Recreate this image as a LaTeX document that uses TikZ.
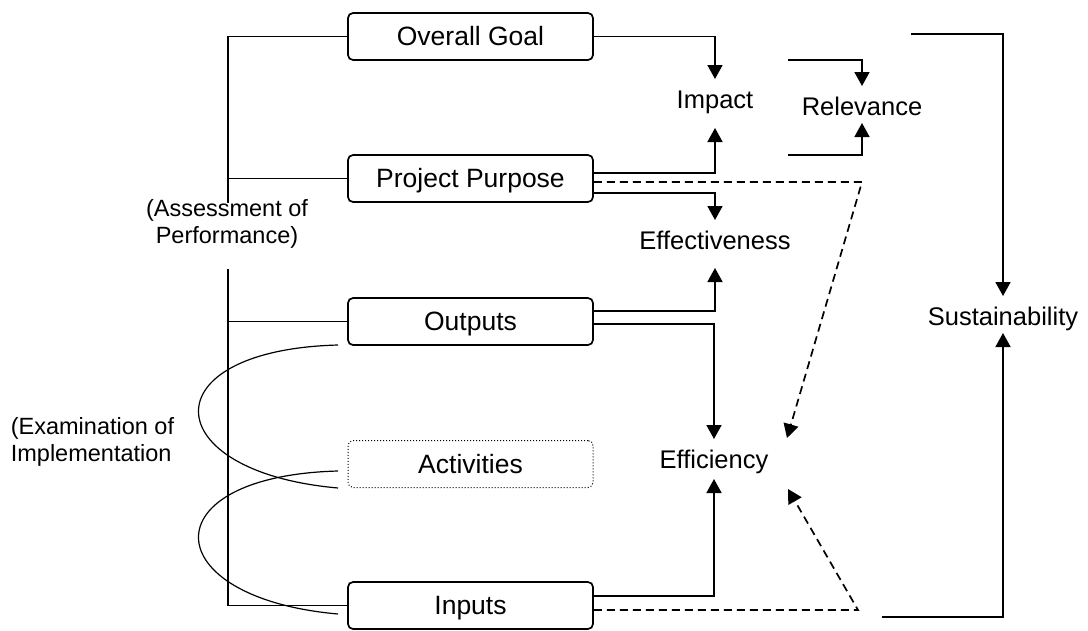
\documentclass[tikz,border=0pt]{standalone}
\usepackage{fontspec}
\setmainfont{Liberation Sans}
\usetikzlibrary{arrows.meta,calc}
\begin{document}
\begin{tikzpicture}[x=1pt,y=-1pt,
  line width=1.7pt,
  txt/.style={font=\fontsize{25.5}{27}\selectfont, inner sep=0pt, text height=18pt, text depth=0pt},
  caption/.style={font=\fontsize{23.5}{27}\selectfont, inner sep=0pt, text height=17pt, text depth=0pt},
  stage/.style={txt, font=\fontsize{26.5}{27}\selectfont, draw, rounded corners=5pt, minimum width=245pt, minimum height=47pt},
  planned/.style={stage, line width=1pt, dotted},
  arr/.style={-{Triangle[width=15pt,length=14pt]}},
  dashlink/.style={dash pattern=on 8pt off 5pt}
]
\useasboundingbox (0,0) rectangle (1088,630);

% logframe boxes
\node[stage]   (goal)    at (470.5,36.5)  {Overall Goal};
\node[stage]   (purpose) at (470.5,178.5) {Project Purpose};
\node[stage]   (outputs) at (470.5,321.5) {Outputs};
\node[planned] (activ)   at (470.5,464)   {Activities};
\node[stage]   (inputs)  at (470.5,605.5) {Inputs};

% evaluation criteria
\node[txt] (impact)  at (715,99)    {Impact};
\node[txt] (relev)   at (862,106)   {Relevance};
\node[txt] (effect)  at (715,240.5) {Effectiveness};
\node[txt] (effic)   at (714,459)   {Efficiency};
\node[txt] (sustain) at (1003,316)  {Sustainability};

% side captions
\node[caption, align=center] (assess) at (227,234.5) {(Assessment of\\Performance)};
\node[caption, align=left, anchor=west] (exam) at (10,452.5) {(Examination of\\Implementation};

% left bracket joining the boxes
\coordinate (btop) at (228,36.5);
\coordinate (gapA) at (228,203);
\coordinate (gapB) at (228,269);
\coordinate (bbot) at (228,605.5);
\draw (goal.west) -- (btop) -- (gapA);
\draw (gapB) -- (bbot) -- (inputs.west);
\draw (purpose.west) -- (purpose.west -| btop);
\draw (outputs.west) -- (outputs.west -| btop);

% loops between implementation levels
\coordinate (l1a) at (338,345);
\coordinate (l1b) at (338,488);
\coordinate (l2a) at (338,471);
\coordinate (l2b) at (338,614);
\draw[line width=1.2pt] (l1a) .. controls (148,350) and (156,472) .. (l1b);
\draw[line width=1.2pt] (l2a) .. controls (148,476) and (156,598) .. (l2b);

% goal -> impact
\draw[arr] (goal.east) -| ($(impact.center)+(0,-20)$);
% purpose -> impact, effectiveness
\draw[arr] ($(purpose.east)+(0,-5.5)$) -| ($(impact.center)+(0,29)$);
\draw[arr] ($(purpose.east)+(0,14.5)$) -| ($(effect.center)+(0,-20.5)$);
% outputs -> effectiveness, efficiency
\draw[arr] ($(outputs.east)+(0,-10.5)$) -| ($(effect.center)+(0,27.5)$);
\draw[arr] ($(outputs.east)+(0,2.5)$) -| ($(effic.center)+(0,-20)$);
% inputs -> efficiency
\draw[arr] ($(inputs.east)+(0,-9.5)$) -| ($(effic.center)+(0,20)$);

% relevance
\coordinate (r1) at (788,60);
\coordinate (r2) at (788,155);
\draw[arr] (r1) -| ($(relev.center)+(0,-20)$);
\draw[arr] (r2) -| ($(relev.center)+(0,17)$);

% sustainability
\coordinate (s1) at (911,34);
\coordinate (s2) at (882,617);
\draw[arr] (s1) -| ($(sustain.center)+(0,-20)$);
\draw[arr] (s2) -| ($(sustain.center)+(0,17)$);

% dashed links to efficiency
\coordinate (d1) at (862,182);
\coordinate (d2) at (858,610);
\draw[arr, dashlink] ($(purpose.east)+(0,3.5)$) -- (d1) -- ($(effic.center)+(73,-21)$);
\draw[arr, dashlink] ($(inputs.east)+(0,4.5)$) -- (d2) -- ($(effic.center)+(74,30)$);
\end{tikzpicture}
\end{document}
